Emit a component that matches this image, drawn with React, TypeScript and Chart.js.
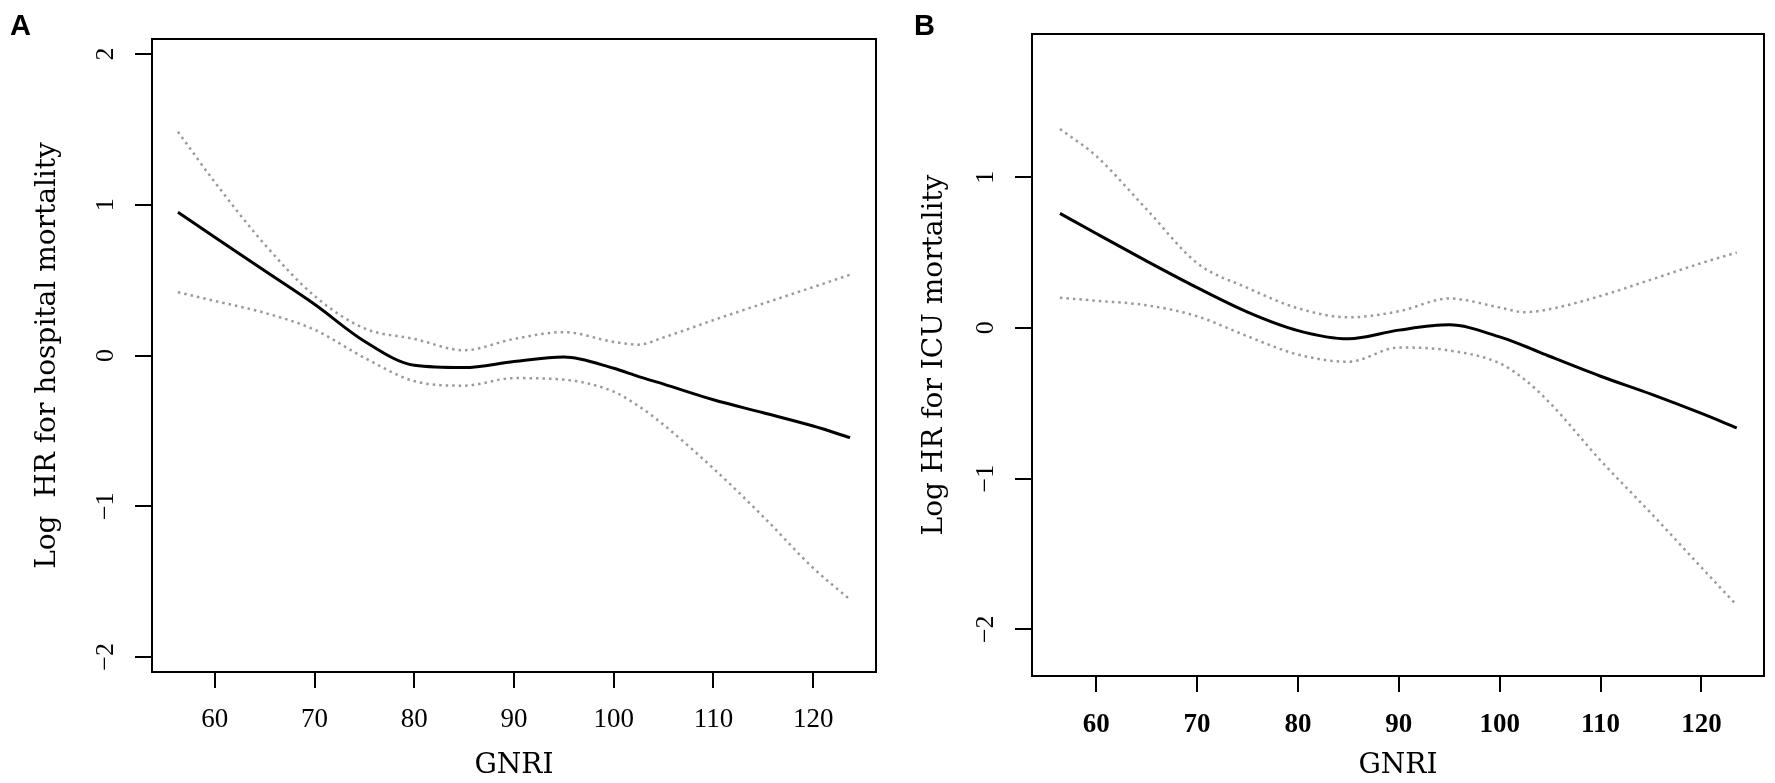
import { useEffect, useRef } from "react";
import { Chart, registerables } from "chart.js";

Chart.register(...registerables);

// tick labels
const xTicks = [60, 70, 80, 90, 100, 110, 120];
const yTicksA = [-2, -1, 0, 1, 2];
const yTicksB = [-2, -1, 0, 1];

// panel A: hospital mortality
const gnriA = [56.3, 60, 65, 70, 75, 80, 85, 90, 95, 100, 102.5, 105, 110, 115, 120, 123.7];
const fitA = [0.95, 0.785, 0.562, 0.34, 0.095, -0.065, -0.08, -0.04, -0.01, -0.085, -0.14, -0.19, -0.294, -0.38, -0.468, -0.545];
const upperA = [1.485, 1.15, 0.737, 0.395, 0.18, 0.11, 0.035, 0.11, 0.155, 0.09, 0.072, 0.12, 0.235, 0.345, 0.454, 0.536];
const lowerA = [0.42, 0.362, 0.283, 0.171, -0.015, -0.17, -0.2, -0.15, -0.16, -0.24, -0.336, -0.46, -0.75, -1.07, -1.41, -1.62];

// panel B: ICU mortality
const gnriB = [56.4, 60, 65, 70, 75, 80, 85, 90, 95, 100, 102.5, 105, 110, 115, 120, 123.5];
const fitB = [0.76, 0.626, 0.443, 0.267, 0.105, -0.018, -0.073, -0.015, 0.02, -0.06, -0.122, -0.19, -0.321, -0.44, -0.568, -0.664];
const upperB = [1.32, 1.14, 0.786, 0.43, 0.265, 0.13, 0.07, 0.11, 0.195, 0.135, 0.104, 0.125, 0.212, 0.32, 0.43, 0.5];
const lowerB = [0.2, 0.18, 0.15, 0.077, -0.056, -0.177, -0.225, -0.13, -0.15, -0.235, -0.345, -0.5, -0.88, -1.23, -1.59, -1.84];

const H = 783;

type Area = { left: number; top: number; right: number; bottom: number };

type PanelProps = {
  left: number;
  width: number;
  area: Area;
  xRange: [number, number];
  yRange: [number, number];
  yTicks: number[];
  gnri: number[];
  fit: number[];
  upper: number[];
  lower: number[];
  yTitle: string;
  yTitlePad: number;
  xTickPad: number;
  xTickBold: boolean;
};

const boxPlugin = {
  id: "box",
  afterDraw(chart: any) {
    const { ctx, chartArea: a } = chart;
    ctx.save();
    ctx.strokeStyle = "#000";
    ctx.lineWidth = 2;
    ctx.strokeRect(a.left, a.top, a.right - a.left, a.bottom - a.top);

    // y tick labels, rotated like R's default
    const y = chart.scales.y;
    ctx.fillStyle = "#000";
    ctx.font = "26px 'Liberation Serif'";
    ctx.textAlign = "center";
    ctx.textBaseline = "middle";
    for (const t of y.ticks) {
      const py = y.getPixelForValue(t.value);
      ctx.save();
      ctx.translate(a.left - 46, py);
      ctx.rotate(-Math.PI / 2);
      ctx.fillText(t.value < 0 ? "\u2212" + Math.abs(t.value) : String(t.value), 0, 0);
      ctx.restore();
    }
    ctx.restore();
  },
};

function Panel(p: PanelProps) {
  const canvasRef = useRef<HTMLCanvasElement>(null);

  useEffect(() => {
    const canvas = canvasRef.current;
    if (!canvas) return;

    const ci = (vals: number[]) => ({
      data: p.gnri.map((x, i) => ({ x, y: vals[i] })),
      borderColor: "#9a9a9a",
      borderWidth: 2.5,
      borderDash: [2.5, 4],
      pointRadius: 0,
      cubicInterpolationMode: "monotone" as const,
    });

    const chart = new Chart(canvas, {
      type: "line",
      data: {
        datasets: [
          ci(p.upper),
          ci(p.lower),
          {
            data: p.gnri.map((x, i) => ({ x, y: p.fit[i] })),
            borderColor: "#000",
            borderWidth: 3,
            pointRadius: 0,
            cubicInterpolationMode: "monotone",
          },
        ],
      },
      options: {
        animation: false,
        responsive: false,
        events: [],
        layout: {
          padding: { left: 0, top: p.area.top, right: p.width - p.area.right, bottom: 0 },
        },
        plugins: { legend: { display: false }, tooltip: { enabled: false } },
        scales: {
          x: {
            type: "linear",
            min: p.xRange[0],
            max: p.xRange[1],
            afterBuildTicks: (s: any) => {
              s.ticks = xTicks.map((v) => ({ value: v }));
            },
            afterFit: (s: any) => {
              s.height = H - p.area.bottom;
            },
            border: { display: false },
            grid: { drawOnChartArea: false, drawTicks: true, tickLength: 16, color: "#000", lineWidth: 2 },
            ticks: {
              color: "#000",
              padding: p.xTickPad,
              maxRotation: 0,
              autoSkip: false,
              font: { family: "'Liberation Serif'", size: 27, weight: p.xTickBold ? "bold" : "normal" },
            },
            title: {
              display: true,
              text: "GNRI",
              color: "#000",
              font: { family: "'DejaVu Serif'", size: 28 },
              padding: { top: 0, bottom: 0 },
            },
          },
          y: {
            type: "linear",
            min: p.yRange[0],
            max: p.yRange[1],
            afterBuildTicks: (s: any) => {
              s.ticks = p.yTicks.map((v) => ({ value: v }));
            },
            afterFit: (s: any) => {
              s.width = p.area.left;
            },
            border: { display: false },
            grid: { drawOnChartArea: false, drawTicks: true, tickLength: 17, color: "#000", lineWidth: 2 },
            ticks: { display: false },
            title: {
              display: true,
              text: p.yTitle,
              color: "#000",
              font: { family: "'DejaVu Serif'", size: 28 },
              padding: { top: p.yTitlePad, bottom: 0 },
            },
          },
        },
      },
      plugins: [boxPlugin],
    });

    return () => chart.destroy();
  }, [p]);

  return (
    <canvas
      ref={canvasRef}
      width={p.width}
      height={H}
      style={{ position: "absolute", left: p.left, top: 0, width: p.width, height: H }}
    />
  );
}

const panelA: PanelProps = {
  left: 0,
  width: 900,
  area: { left: 152, top: 39, right: 876, bottom: 672 },
  xRange: [53.7, 126.3],
  yRange: [-2.1, 2.1],
  yTicks: yTicksA,
  gnri: gnriA,
  fit: fitA,
  upper: upperA,
  lower: lowerA,
  yTitle: "Log  HR for hospital mortality",
  yTitlePad: 31,
  xTickPad: 16,
  xTickBold: false,
};

const panelB: PanelProps = {
  left: 890,
  width: 885,
  area: { left: 142, top: 34, right: 874, bottom: 676 },
  xRange: [53.63, 126.2],
  yRange: [-2.31, 1.95],
  yTicks: yTicksB,
  gnri: gnriB,
  fit: fitB,
  upper: upperB,
  lower: lowerB,
  yTitle: "Log HR for ICU mortality",
  yTitlePad: 28,
  xTickPad: 17,
  xTickBold: true,
};

const letter = {
  position: "absolute" as const,
  top: 11,
  fontFamily: "'Liberation Sans', Arial, sans-serif",
  fontWeight: "bold" as const,
  fontSize: 29,
  lineHeight: "29px",
  color: "#000",
};

export default function App() {
  return (
    <div style={{ position: "absolute", left: 0, top: 0, width: 1775, height: H, background: "#fff", overflow: "hidden" }}>
      <Panel {...panelA} />
      <Panel {...panelB} />
      <div style={{ ...letter, left: 10 }}>A</div>
      <div style={{ ...letter, left: 914 }}>B</div>
    </div>
  );
}
